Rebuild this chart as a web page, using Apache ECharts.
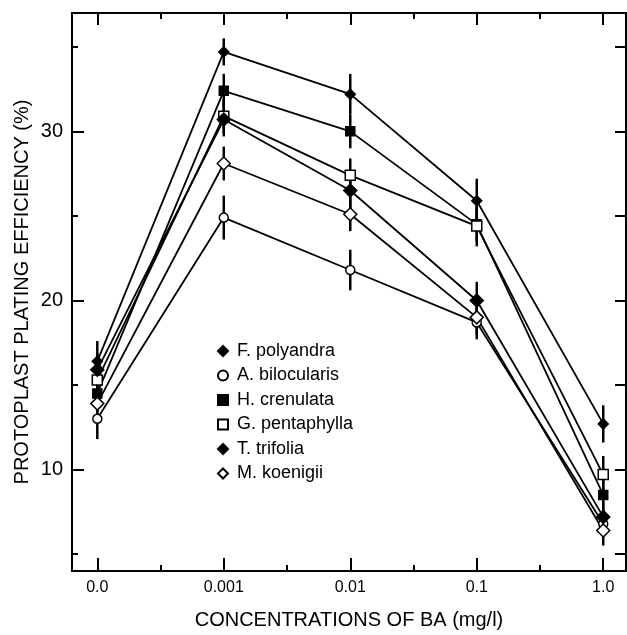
<!DOCTYPE html>
<html>
<head>
    <meta charset="utf-8">
    <title>Protoplast plating efficiency</title>
    <script src="https://cdn.jsdelivr.net/npm/echarts@6/dist/echarts.min.js"></script>
    <style>
        html, body { margin: 0; padding: 0; background: #fff; }
    </style>
</head>
<body>
<div id="main" style="width: 627px;height:635px;"></div>
<script type="text/javascript">
    // concentration steps, plotted at positions 0..4
    var concLabels = ['0.0', '0.001', '0.01', '0.1', '1.0'];
    var concPos = [0, 1, 2, 3, 4];

    var species = ['F. polyandra', 'A. bilocularis', 'H. crenulata', 'G. pentaphylla', 'T. trifolia', 'M. koenigii'];

    // plating efficiency (%)
    var fPolyandra   = [16.4, 34.7, 32.2, 25.9, 12.7];
    var aBilocularis = [13.0, 24.9, 21.8, 18.7, 6.8];
    var hCrenulata   = [14.5, 32.4, 30.0, 24.5, 8.5];
    var gPentaphylla = [15.3, 30.9, 27.4, 24.4, 9.7];
    var tTrifolia    = [15.9, 30.7, 26.5, 20.0, 7.2];
    var mKoenigii    = [13.9, 28.1, 25.1, 19.0, 6.4];

    // error (+/-)
    var fPolyandraErr   = [1.2, 0.8, 1.2, 1.3, 1.1];
    var aBilocularisErr = [1.2, 1.3, 1.2, 1.0, 0.8];
    var hCrenulataErr   = [1.0, 1.0, 1.0, 1.0, 1.0];
    var gPentaphyllaErr = [1.0, 1.0, 1.0, 1.2, 1.1];
    var tTrifoliaErr    = [1.0, 1.0, 1.0, 1.1, 0.9];
    var mKoenigiiErr    = [1.0, 1.0, 1.0, 1.0, 0.9];

    var yMajor = [10, 20, 30];
    var yMinor = [5, 15, 25, 35];
    var xMinor = [0.5, 1.5, 2.5, 3.5];

    var values = [fPolyandra, aBilocularis, hCrenulata, gPentaphylla, tTrifolia, mKoenigii];
    var errors = [fPolyandraErr, aBilocularisErr, hCrenulataErr, gPentaphyllaErr, tTrifoliaErr, mKoenigiiErr];

    // marker look per species
    var symbols = [
        {symbol: 'diamond', size: 10, fill: '#000'},
        {symbol: 'circle', size: 9, fill: '#fff'},
        {symbol: 'rect', size: 9, fill: '#000'},
        {symbol: 'rect', size: 10, fill: '#fff'},
        {symbol: 'diamond', size: 13, fill: '#000'},
        {symbol: 'diamond', size: 13, fill: '#fff'}
    ];

    var font = "'Liberation Sans', Arial, Helvetica, sans-serif";
    var chart = echarts.init(document.getElementById('main'));

    function pts(arr) {
        return arr.map(function (v, i) { return [concPos[i], v]; });
    }

    var series = [];
    // error bars first so markers sit on top
    species.forEach(function (name, k) {
        series.push({
            name: 'err ' + name,
            type: 'custom',
            z: 1,
            silent: true,
            data: values[k].map(function (v, i) {
                return [concPos[i], v - errors[k][i], v + errors[k][i]];
            }),
            renderItem: function (params, api) {
                var lo = api.coord([api.value(0), api.value(1)]);
                var hi = api.coord([api.value(0), api.value(2)]);
                return {
                    type: 'line',
                    shape: {x1: lo[0], y1: lo[1], x2: hi[0], y2: hi[1]},
                    style: {stroke: '#000', lineWidth: 2.5}
                };
            }
        });
    });
    species.forEach(function (name, k) {
        series.push({
            name: name,
            type: 'line',
            z: 3,
            data: pts(values[k]),
            symbol: symbols[k].symbol,
            symbolSize: symbols[k].size,
            showAllSymbol: true,
            lineStyle: {color: '#000', width: 1.8},
            itemStyle: {color: symbols[k].fill, borderColor: '#000', borderWidth: 1.5},
            emphasis: {disabled: true},
            animation: false
        });
    });

    var axisLine = {show: true, onZero: false, lineStyle: {color: '#000', width: 2}};

    var option = {
        backgroundColor: '#fff',
        animation: false,
        grid: {left: 72, right: 1, top: 13, bottom: 64},
        legend: {
            orient: 'vertical',
            left: 212,
            top: 337,
            itemWidth: 10,
            itemHeight: 10,
            itemGap: 6.5,
            textStyle: {fontSize: 18, color: '#000', fontFamily: font, lineHeight: 18, padding: [0, 0, 0, 4]},
            data: species.map(function (name, k) {
                return {name: name, icon: symbols[k].symbol};
            }),
            selectedMode: false
        },
        xAxis: [
            {
                type: 'value', position: 'bottom', min: -0.2, max: 4.18,
                name: 'CONCENTRATIONS OF BA (mg/l)', nameLocation: 'middle', nameGap: 39,
                nameTextStyle: {fontSize: 20, color: '#000', fontFamily: font},
                axisLine: axisLine,
                axisTick: {inside: true, length: 13, customValues: concPos, lineStyle: {color: '#000', width: 2}},
                axisLabel: {
                    customValues: concPos, margin: 9, fontSize: 16, color: '#000', fontFamily: font,
                    formatter: function (v) { return concLabels[Math.round(v)]; }
                },
                splitLine: {show: false}
            },
            {
                type: 'value', position: 'bottom', min: -0.2, max: 4.18,
                axisLine: axisLine,
                axisTick: {inside: true, length: 6, customValues: xMinor, lineStyle: {color: '#000', width: 2}},
                axisLabel: {show: false},
                splitLine: {show: false}
            },
            {
                type: 'value', position: 'top', min: -0.2, max: 4.18,
                axisLine: axisLine,
                axisTick: {inside: true, length: 12, customValues: concPos, lineStyle: {color: '#000', width: 2}},
                axisLabel: {show: false},
                splitLine: {show: false}
            },
            {
                type: 'value', position: 'top', min: -0.2, max: 4.18,
                axisLine: axisLine,
                axisTick: {inside: true, length: 6, customValues: xMinor, lineStyle: {color: '#000', width: 2}},
                axisLabel: {show: false},
                splitLine: {show: false}
            }
        ],
        yAxis: [
            {
                type: 'value', position: 'left', min: 4, max: 37,
                name: 'PROTOPLAST PLATING EFFICIENCY (%)', nameLocation: 'middle', nameGap: 40,
                nameMoveOverlap: false,
                nameTextStyle: {fontSize: 20, color: '#000', fontFamily: font},
                axisLine: axisLine,
                axisTick: {inside: true, length: 12, customValues: yMajor, lineStyle: {color: '#000', width: 2}},
                axisLabel: {customValues: yMajor, margin: 9, fontSize: 20, color: '#000', fontFamily: font},
                splitLine: {show: false}
            },
            {
                type: 'value', position: 'left', min: 4, max: 37,
                axisLine: axisLine,
                axisTick: {inside: true, length: 6, customValues: yMinor, lineStyle: {color: '#000', width: 2}},
                axisLabel: {show: false},
                splitLine: {show: false}
            },
            {
                type: 'value', position: 'right', min: 4, max: 37,
                axisLine: axisLine,
                axisTick: {inside: true, length: 11, customValues: yMajor.concat(yMinor), lineStyle: {color: '#000', width: 2}},
                axisLabel: {show: false},
                splitLine: {show: false}
            }
        ],
        series: series
    };

    chart.setOption(option);
</script>
</body>
</html>
